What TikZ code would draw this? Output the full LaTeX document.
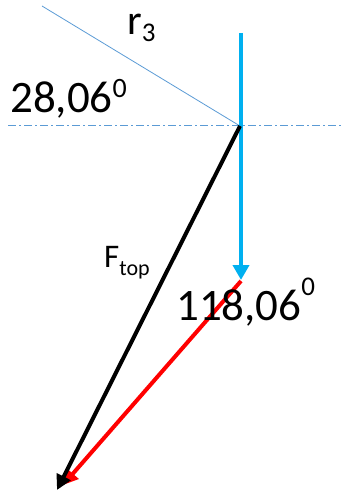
\documentclass[tikz,border=0pt]{standalone}
\usepackage{fontspec}
\setmainfont{Carlito}
\usetikzlibrary{arrows.meta}
\definecolor{thinblue}{HTML}{5B9BD5}
\definecolor{cyanblue}{HTML}{00B0F0}
\begin{document}
\begin{tikzpicture}[x=1pt,y=-1pt,
  vec/.style={line width=4pt,-{Triangle[width=15pt,length=15pt]}},
  lbl/.style={anchor=base west,inner sep=0pt,text=black}]
\useasboundingbox (0,0) rectangle (341,492);
% points
\coordinate (r3start) at (42,6);
\coordinate (O) at (240,126);
\coordinate (dl) at (8,125);
\coordinate (dr) at (341,125);
\coordinate (btop) at (241,33);
\coordinate (btip) at (241,280);
\coordinate (rstart) at (241,281);
\coordinate (rtip) at (63,485);
\coordinate (ktip) at (57,490);
% reference lines
\draw[thinblue,line width=0.8pt] (r3start) -- (O);
\draw[thinblue,line width=1pt,dash pattern=on 8pt off 3pt on 2pt off 3pt] (dl) -- (dr);
% vectors
\draw[vec,cyanblue,-{Triangle[width=16pt,length=15pt]}] (btop) -- (btip);
\draw[vec,red] (rstart) -- (rtip);
\draw[vec,black] (O) -- (ktip);
% labels
\node[lbl] (r3) at (127,35) {\fontsize{42}{42}\selectfont r\raisebox{-7pt}{\fontsize{27}{27}\selectfont 3}};
\node[lbl] (a1) at (10,113) {\fontsize{45}{45}\selectfont 28,06\raisebox{15pt}{\fontsize{28}{28}\selectfont 0}};
\node[lbl] (F) at (104,267) {\fontsize{33}{33}\selectfont F\raisebox{-8pt}{\fontsize{22}{22}\selectfont top}};
\node[lbl] (a2) at (176,320) {\fontsize{45}{45}\selectfont 118,06\raisebox{25pt}{\fontsize{27}{27}\selectfont 0}};
\end{tikzpicture}
\end{document}
